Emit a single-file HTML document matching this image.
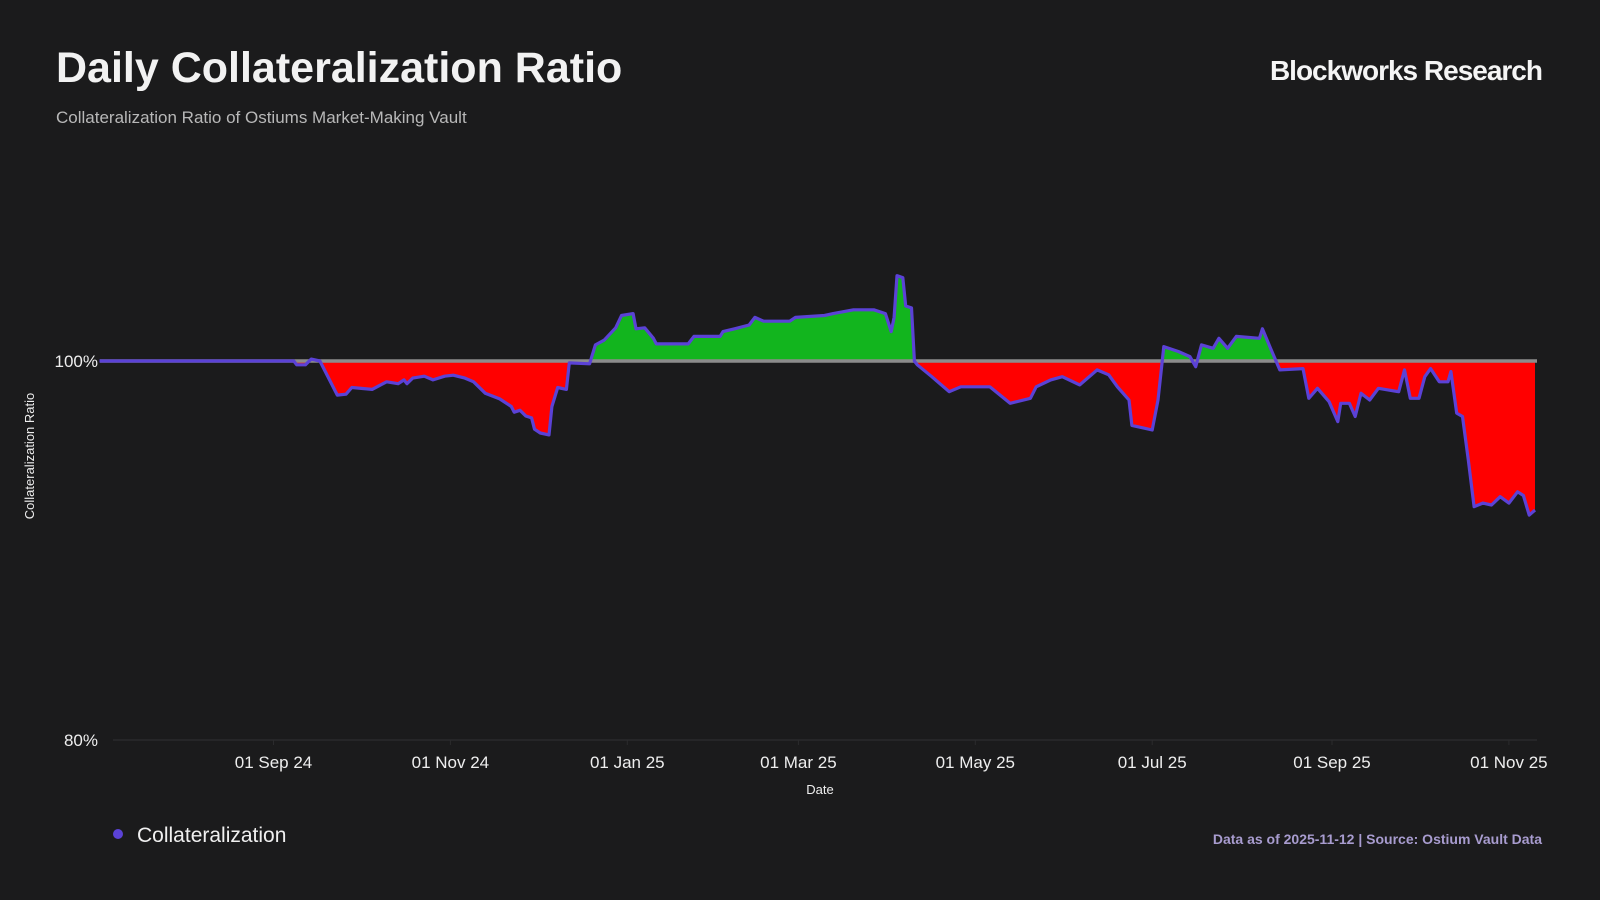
<!DOCTYPE html>
<html><head><meta charset="utf-8"><style>
html,body{margin:0;padding:0;background:#1b1b1c;}
body{width:1600px;height:900px;position:relative;overflow:hidden;font-family:"Liberation Sans",sans-serif;}
.t{position:absolute;white-space:nowrap;}
</style></head><body>
<div class="t" style="left:56px;top:44px;font-size:43px;font-weight:bold;color:#f2f2f2;">Daily Collateralization Ratio</div>
<div class="t" style="left:56px;top:108px;font-size:17px;color:#b8b8b8;">Collateralization Ratio of Ostiums Market-Making Vault</div>
<div class="t" style="right:58px;top:55px;font-size:28px;font-weight:bold;color:#f5f5f5;letter-spacing:-1px;">Blockworks Research</div>
<svg id="chart" width="1600" height="900" style="position:absolute;left:0;top:0;" xmlns="http://www.w3.org/2000/svg"></svg>
<div class="t" style="left:113px;top:824px;font-size:21px;color:#f0f0f0;"><span style="display:inline-block;width:10px;height:10px;border-radius:50%;background:#5b42d6;margin-right:14px;vertical-align:3px;"></span>Collateralization</div>
<div class="t" style="right:58px;top:831px;font-size:14px;font-weight:bold;color:#a89ccf;">Data as of 2025-11-12 | Source: Ostium Vault Data</div>
<script>
const dates=["2024-07-03","2024-09-08","2024-09-09","2024-09-12","2024-09-14","2024-09-17","2024-09-19","2024-09-23","2024-09-26","2024-09-28","2024-10-05","2024-10-10","2024-10-14","2024-10-16","2024-10-17","2024-10-19","2024-10-23","2024-10-26","2024-10-30","2024-11-02","2024-11-06","2024-11-09","2024-11-13","2024-11-18","2024-11-22","2024-11-23","2024-11-25","2024-11-27","2024-11-29","2024-11-30","2024-12-02","2024-12-05","2024-12-06","2024-12-08","2024-12-11","2024-12-12","2024-12-19","2024-12-21","2024-12-24","2024-12-28","2024-12-30","2025-01-03","2025-01-04","2025-01-07","2025-01-10","2025-01-11","2025-01-22","2025-01-24","2025-02-02","2025-02-03","2025-02-07","2025-02-12","2025-02-14","2025-02-17","2025-02-26","2025-02-28","2025-03-10","2025-03-13","2025-03-20","2025-03-27","2025-03-31","2025-04-02","2025-04-03","2025-04-04","2025-04-06","2025-04-07","2025-04-09","2025-04-10","2025-04-11","2025-04-16","2025-04-22","2025-04-26","2025-05-06","2025-05-13","2025-05-20","2025-05-22","2025-05-27","2025-05-31","2025-06-06","2025-06-12","2025-06-16","2025-06-19","2025-06-23","2025-06-24","2025-07-01","2025-07-03","2025-07-05","2025-07-10","2025-07-14","2025-07-16","2025-07-18","2025-07-22","2025-07-24","2025-07-27","2025-07-30","2025-08-07","2025-08-08","2025-08-11","2025-08-14","2025-08-22","2025-08-24","2025-08-27","2025-08-31","2025-09-03","2025-09-04","2025-09-07","2025-09-09","2025-09-11","2025-09-14","2025-09-17","2025-09-24","2025-09-26","2025-09-28","2025-10-01","2025-10-03","2025-10-05","2025-10-08","2025-10-11","2025-10-12","2025-10-14","2025-10-16","2025-10-18","2025-10-20","2025-10-23","2025-10-26","2025-10-29","2025-11-01","2025-11-04","2025-11-06","2025-11-08","2025-11-10"];
const values=[100,100,99.8,99.8,100.1,100,99.4,98.2,98.25,98.6,98.5,98.9,98.8,99.0,98.8,99.1,99.2,99.0,99.2,99.25,99.1,98.9,98.3,98.0,97.6,97.3,97.4,97.1,97.0,96.4,96.2,96.1,97.6,98.6,98.5,99.9,99.85,100.85,101.1,101.75,102.4,102.5,101.7,101.75,101.2,100.9,100.9,101.3,101.3,101.55,101.7,101.9,102.3,102.1,102.1,102.3,102.4,102.5,102.7,102.7,102.5,101.55,102.3,104.5,104.4,102.9,102.8,100,99.8,99.17,98.38,98.64,98.64,97.77,98.03,98.64,99.0,99.17,98.74,99.53,99.27,98.64,97.94,96.6,96.36,97.94,100.76,100.5,100.23,99.7,100.85,100.67,101.2,100.67,101.3,101.2,101.7,100.6,99.53,99.6,98.03,98.56,97.85,96.8,97.77,97.77,97.07,98.3,97.94,98.56,98.38,99.53,98.03,98.03,99.17,99.6,98.9,98.9,99.44,97.25,97.07,94.78,92.31,92.5,92.4,92.84,92.5,93.1,92.9,91.87,92.13];
const yTicks=[80,100];
const xTickLabels=["01 Sep 24","01 Nov 24","01 Jan 25","01 Mar 25","01 May 25","01 Jul 25","01 Sep 25","01 Nov 25"];
const xTickDates=["2024-09-01","2024-11-01","2025-01-01","2025-03-01","2025-05-01","2025-07-01","2025-09-01","2025-11-01"];

const NS="http://www.w3.org/2000/svg";
const svg=document.getElementById('chart');
const D0=Date.parse("2024-09-01"),DAY=86400000;
const xs=d=>273.5+(Date.parse(d)-D0)/DAY*2.9;
const ys=v=>361+(100-v)*18.95;
const PX0=100,PX1=1537;
function mk(tag,attrs){const e=document.createElementNS(NS,tag);for(const k in attrs)e.setAttribute(k,attrs[k]);svg.appendChild(e);return e;}

const g80=mk('line',{x1:113,x2:PX1,y1:ys(80),y2:ys(80),stroke:'#2b2b2d','stroke-width':1.5});


yTicks.forEach(v=>{const t=mk('text',{x:98,y:ys(v)+6,'text-anchor':'end','font-size':17,fill:'#eeeeee','font-family':'Liberation Sans, sans-serif'});t.textContent=v+'%';

});
xTickDates.forEach((d,i)=>{const x=xs(d);
const tk=mk('line',{x1:x,x2:x,y1:ys(80),y2:ys(80)+5,stroke:'#2b2b2d','stroke-width':1});


const t=mk('text',{x:x,y:768,'text-anchor':'middle','font-size':17,fill:'#eeeeee','font-family':'Liberation Sans, sans-serif'});t.textContent=xTickLabels[i];

});
const xt=mk('text',{x:820,y:794,'text-anchor':'middle','font-size':13,fill:'#eeeeee','font-family':'Liberation Sans, sans-serif'});xt.textContent='Date';


const yt=mk('text',{x:0,y:0,transform:'translate(34,456) rotate(-90)','text-anchor':'middle','font-size':13,fill:'#eeeeee','font-family':'Liberation Sans, sans-serif'});yt.textContent='Collateralization Ratio';



const defs=mk('defs',{});
const y100=ys(100);
defs.innerHTML='<clipPath id="cAbove"><rect x="0" y="0" width="1600" height="'+y100+'"/></clipPath><clipPath id="cBelow"><rect x="0" y="'+y100+'" width="1600" height="900"/></clipPath>';
const pts=dates.map((d,i)=>[xs(d),ys(values[i])]);
const line=pts.map((p,i)=>(i?'L':'M')+p[0].toFixed(1)+','+p[1].toFixed(1)).join('');
const area=line+'L'+pts[pts.length-1][0].toFixed(1)+','+y100+'L'+pts[0][0].toFixed(1)+','+y100+'Z';
const ga=mk('path',{d:area,fill:'#12b51e','clip-path':'url(#cAbove)'});


const rb=mk('path',{d:area,fill:'#ff0000','clip-path':'url(#cBelow)'});


const base=mk('line',{x1:PX0,x2:PX1,y1:y100,y2:y100,stroke:'#8c8c8c','stroke-width':3.5});


const ln=mk('path',{d:line,fill:'none',stroke:'#5b42d6','stroke-width':3.2,'stroke-linejoin':'round'});


</script>
</body></html>
